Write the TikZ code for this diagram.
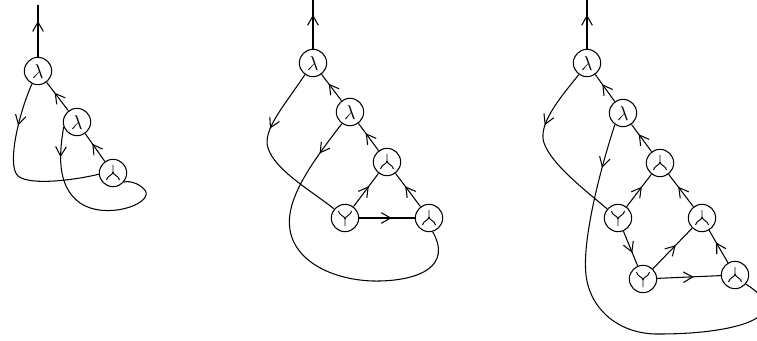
\documentclass[tikz,border=0pt]{standalone}
\usepackage{amsmath,amssymb}
\usetikzlibrary{arrows.meta, decorations.markings}

\begin{document}
\begin{tikzpicture}[
    x=0.03cm, y=0.03cm,
    % ── Vertex node style ────────────────────────────────────────────
    vtx/.style={
        draw, circle, line width=0.9pt,
        minimum size=0.82cm, inner sep=0pt, font=\LARGE
    },
    % ── Merge / split vertices: glyph drawn inside the circle ─────────
    merge/.style={vtx, path picture={
        \draw[line width=0.8pt, shift={(path picture bounding box.center)}]
            (0,8) -- (0,1)
            (-6.5,-7) .. controls (-6,-3) and (0,-2) .. (0,1)
                      .. controls (0,-2) and (6,-3) .. (6.5,-7);}},
    split/.style={vtx, path picture={
        \draw[line width=0.8pt, shift={(path picture bounding box.center)}]
            (0,-8) -- (0,-1)
            (-6.5,7) .. controls (-6.5,3) and (0,2) .. (0,-1)
                     .. controls (0,2) and (6.5,3) .. (6.5,7);}},
    % ── Wires with an open arrow part way along ───────────────────────
    wire/.style={line width=0.9pt},
    mid/.style={wire, postaction={decorate},
        decoration={markings, mark=at position #1 with
            {\arrow[xshift=0.14cm]{Straight Barb[length=0.28cm, width=0.32cm, line width=0.9pt]}}}},
    mid/.default=0.5
]
    \useasboundingbox (0,0) rectangle (757,-341);

% ══════════════════════════════════════════════════════════════════════
% GRAPH 1
% ══════════════════════════════════════════════════════════════════════
    \node[vtx]   (a1) at (38,-71)   {$\lambda$};
    \node[vtx]   (b1) at (77,-122)  {$\lambda$};
    \node[merge] (c1) at (113,-173) {};
    \coordinate (t1) at (38,-5);

    \draw[mid=0.6] (a1) -- (t1);
    \draw[mid] (b1) -- (a1);
    \draw[mid] (c1) -- (b1);
    \draw[mid=0.22] (a1.245) .. controls (20,-110) and (6,-165) .. (18,-176)
        .. controls (30,-186) and (75,-180) .. (c1.185);
    \draw[mid=0.14] (b1.200) .. controls (60,-150) and (55,-185) .. (80,-203)
        .. controls (105,-220) and (150,-205) .. (146,-192)
        .. controls (143,-185) and (130,-180) .. (c1.-40);

% ══════════════════════════════════════════════════════════════════════
% GRAPH 2
% ══════════════════════════════════════════════════════════════════════
    \node[vtx]   (a2) at (313,-63)  {$\lambda$};
    \node[vtx]   (b2) at (350,-112) {$\lambda$};
    \node[merge] (c2) at (387,-162) {};
    \node[split] (d2) at (345,-218) {};
    \node[merge] (e2) at (429,-218) {};
    \coordinate (t2) at (313,0);

    \draw[mid=0.6] (a2) -- (t2);
    \draw[mid] (b2) -- (a2);
    \draw[mid] (c2) -- (b2);
    \draw[mid] (d2) -- (c2);
    \draw[mid] (e2) -- (c2);
    \draw[mid] (d2) -- (e2);
    \draw[mid=0.34] (a2.235) .. controls (285,-105) and (262,-130) .. (268,-148)
        .. controls (275,-170) and (310,-190) .. (d2.140);
    \draw[mid=0.1] (b2.235) .. controls (310,-165) and (285,-200) .. (290,-230)
        .. controls (296,-265) and (340,-282) .. (380,-281)
        .. controls (420,-280) and (452,-266) .. (e2.-75);

% ══════════════════════════════════════════════════════════════════════
% GRAPH 3
% ══════════════════════════════════════════════════════════════════════
    \node[vtx]   (a3) at (587,-63)  {$\lambda$};
    \node[vtx]   (b3) at (623,-113) {$\lambda$};
    \node[merge] (c3) at (660,-163) {};
    \node[split] (d3) at (618,-218) {};
    \node[merge] (e3) at (702,-218) {};
    \node[split] (f3) at (643,-279) {};
    \node[merge] (g3) at (735,-275) {};
    \coordinate (t3) at (587,0);

    \draw[mid=0.6] (a3) -- (t3);
    \draw[mid] (b3) -- (a3);
    \draw[mid] (c3) -- (b3);
    \draw[mid] (d3) -- (c3);
    \draw[mid] (e3) -- (c3);
    \draw[mid] (d3) -- (f3);
    \draw[mid] (f3) -- (e3);
    \draw[mid] (g3) -- (e3);
    \draw[mid] (f3) -- (g3);
    \draw[mid=0.33] (a3.235) .. controls (558,-100) and (538,-125) .. (544,-143)
        .. controls (552,-165) and (585,-190) .. (d3.140);
    \draw[mid=0.1] (b3.235) .. controls (600,-170) and (582,-240) .. (586,-275)
        .. controls (590,-310) and (620,-335) .. (660,-334)
        .. controls (730,-334) and (800,-318) .. (g3.-40);

\end{tikzpicture}
\end{document}
